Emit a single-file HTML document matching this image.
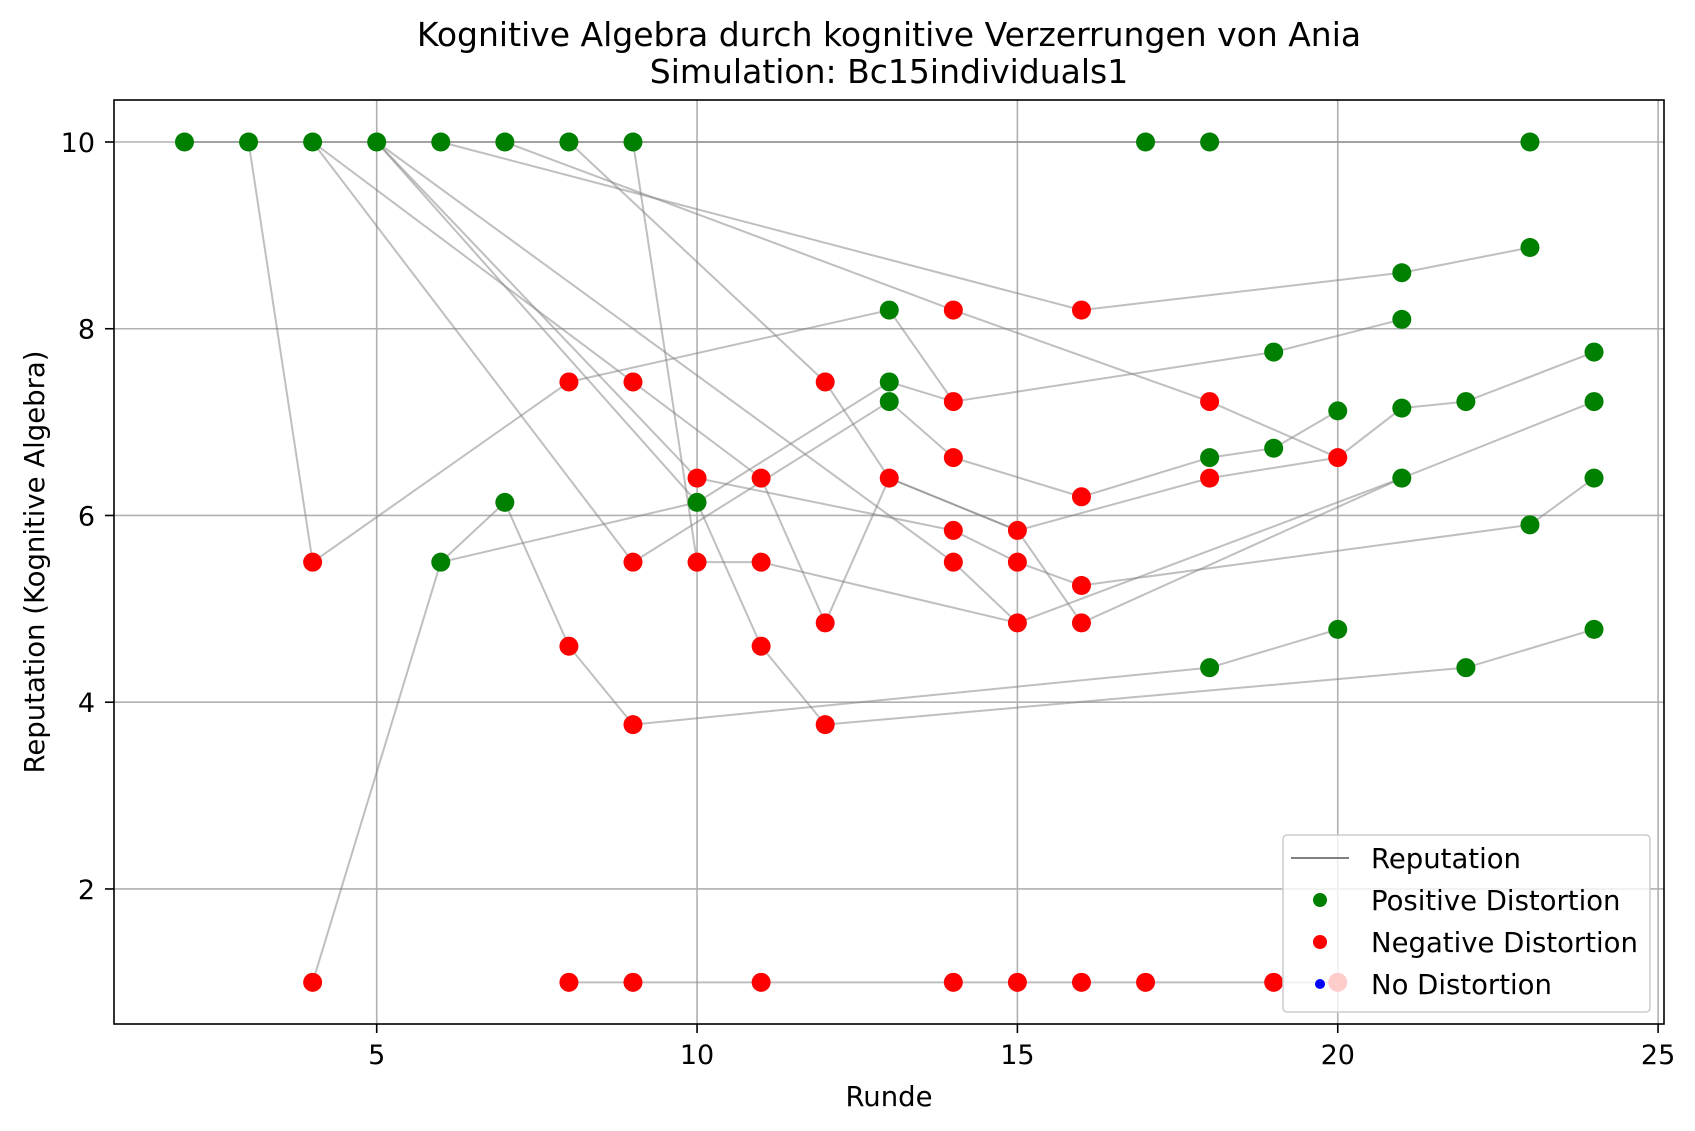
<!DOCTYPE html>
<html><head><meta charset="utf-8"><style>
body{margin:0;background:#fff}
svg{display:block;font-family:"DejaVu Sans","Liberation Sans",sans-serif}
</style></head><body>
<svg id="chart" width="1695" height="1131" viewBox="0 0 1695 1131" xmlns="http://www.w3.org/2000/svg">
<rect width="1695" height="1131" fill="#fff"/>
<text x="889" y="46" font-size="33" text-anchor="middle">Kognitive Algebra durch kognitive Verzerrungen von Ania</text>
<text x="889" y="83" font-size="33" text-anchor="middle">Simulation: Bc15individuals1</text>
<g id="grid"></g>
<g id="lines"></g>
<g id="points"></g>
<rect x="114" y="100" width="1550" height="924" fill="none" stroke="#000" stroke-width="1.6"/>
<g id="axes"></g>
<text x="889" y="1106" font-size="27.5" text-anchor="middle">Runde</text>
<text x="44" y="562" font-size="27.5" text-anchor="middle" transform="rotate(-90 44 562)">Reputation (Kognitive Algebra)</text>
<g>
<rect x="1283" y="835" width="367" height="177" rx="4" fill="#fff" fill-opacity="0.8" stroke="#ccc" stroke-width="1.5"/>
<line x1="1291" y1="858" x2="1349" y2="858" stroke="#808080" stroke-width="2"/>
<text x="1371" y="868" font-size="27.5">Reputation</text>
<circle cx="1320" cy="900" r="7" fill="green"/>
<text x="1371" y="910" font-size="27.5">Positive Distortion</text>
<circle cx="1320" cy="942" r="7" fill="red"/>
<text x="1371" y="952" font-size="27.5">Negative Distortion</text>
<circle cx="1320" cy="984" r="5" fill="blue"/>
<text x="1371" y="994" font-size="27.5">No Distortion</text>
</g>
</svg>
<script>
const xTicks=[5,10,15,20,25];
const yTicks=[2,4,6,8,10];
const series=[
[[2,10],[3,10],[4,10],[5,10],[6,10],[7,10],[8,10],[9,10],[17,10],[18,10],[23,10]],
[[3,10],[4,5.5],[8,7.43],[13,8.2],[14,7.22],[19,7.75],[21,8.1]],
[[4,10],[9,5.5],[13,7.22],[14,6.62],[16,6.2],[18,6.62],[19,6.72],[20,7.12]],
[[4,10],[9,7.43],[11,6.4],[12,4.85],[13,6.4],[15,5.84],[16,4.85],[21,6.4],[24,7.22]],
[[5,10],[10,6.4],[14,5.84],[15,5.5],[16,5.25],[23,5.9],[24,6.4]],
[[5,10],[10,6.14],[11,4.6],[12,3.76],[22,4.37],[24,4.78]],
[[5,10],[14,5.5],[15,4.85],[21,6.4]],
[[6,10],[16,8.2],[21,8.6],[23,8.87]],
[[7,10],[14,8.2],[18,7.22],[20,6.62],[21,7.15],[22,7.22],[24,7.75]],
[[8,10],[12,7.43],[13,6.4],[15,5.84],[18,6.4],[20,6.62]],
[[9,10],[10,5.5],[11,5.5],[15,4.85]],
[[6,5.5],[7,6.14],[8,4.6],[9,3.76],[18,4.37],[20,4.78]],
[[4,1],[6,5.5],[10,6.14],[13,7.43],[14,7.22]],
[[8,1],[9,1],[11,1],[14,1],[15,1],[16,1],[17,1],[19,1],[20,1]]
];
const posX=[2,3,4,5,6,7,8,9,17,18,23,13,13,13,19,21,21,23,18,19,20,21,22,24,24,21,24,23,6,7,10,18,20,22,24];
const posY=[10,10,10,10,10,10,10,10,10,10,10,8.2,7.43,7.22,7.75,8.1,8.6,8.87,6.62,6.72,7.12,7.15,7.22,7.75,7.22,6.4,6.4,5.9,5.5,6.14,6.14,4.37,4.78,4.37,4.78];
const negX=[4,4,8,9,12,14,16,14,18,10,11,13,14,16,18,20,14,15,9,10,11,14,15,16,12,15,16,8,11,9,12,8,9,11,14,15,16,17,19,20];
const negY=[5.5,1,7.43,7.43,7.43,8.2,8.2,7.22,7.22,6.4,6.4,6.4,6.62,6.2,6.4,6.62,5.84,5.84,5.5,5.5,5.5,5.5,5.5,5.25,4.85,4.85,4.85,4.6,4.6,3.76,3.76,1,1,1,1,1,1,1,1,1];
const X=v=>376.7+(v-5)*64.07;
const Y=v=>142+(10-v)*93.37;
const NS="http://www.w3.org/2000/svg";
function mk(t,a,p){const e=document.createElementNS(NS,t);for(const k in a)e.setAttribute(k,a[k]);p.appendChild(e);return e;}
const grid=document.getElementById('grid'),axes=document.getElementById('axes');
xTicks.forEach(t=>{
 const g=mk('line',{x1:X(t),x2:X(t),y1:100,y2:1024,stroke:'#b0b0b0','stroke-width':1.6},grid);
 
 
 const k=mk('line',{x1:X(t),x2:X(t),y1:1024,y2:1033,stroke:'#000','stroke-width':1.6},axes);
 
 
 const l=mk('text',{x:X(t),y:1064,'font-size':27,'text-anchor':'middle'},axes);
 
 
 l.textContent=t;
});
yTicks.forEach(t=>{
 const g=mk('line',{x1:114,x2:1664,y1:Y(t),y2:Y(t),stroke:'#b0b0b0','stroke-width':1.6},grid);
 
 
 const k=mk('line',{x1:105,x2:114,y1:Y(t),y2:Y(t),stroke:'#000','stroke-width':1.6},axes);
 
 
 const l=mk('text',{x:95,y:Y(t)+10,'font-size':27,'text-anchor':'end'},axes);
 
 
 l.textContent=t;
});
const lg=document.getElementById('lines');
series.forEach(s=>{
 const p=mk('polyline',{points:s.map(d=>X(d[0])+','+Y(d[1])).join(' '),fill:'none',stroke:'#808080','stroke-opacity':0.5,'stroke-width':2},lg);
 
 
});
const pg=document.getElementById('points');
posX.forEach((x,i)=>{
 const c=mk('circle',{cx:X(x),cy:Y(posY[i]),r:9.5,fill:'green'},pg);
 
 
});
negX.forEach((x,i)=>{
 const c=mk('circle',{cx:X(x),cy:Y(negY[i]),r:9.5,fill:'red'},pg);
 
 
});
</script>
</body></html>
